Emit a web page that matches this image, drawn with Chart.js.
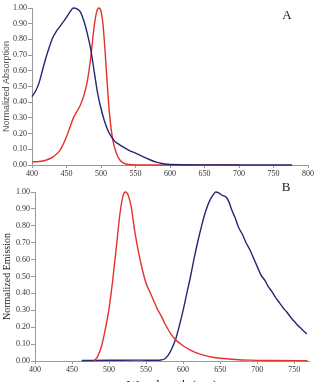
<!DOCTYPE html>
<html>
<head>
<meta charset="utf-8">
<script src="https://cdn.jsdelivr.net/npm/chart.js@4.4.0/dist/chart.umd.min.js"></script>
<style>
  body { margin: 0; background: #fff; width: 319px; height: 382px; overflow: hidden; position: relative; }
  canvas { position: absolute; left: 0; }
</style>
</head>
<body>
<canvas id="absChart" width="319" height="180" style="top:0"></canvas>
<canvas id="emiChart" width="319" height="213" style="top:180px"></canvas>
<script>
// panel A - absorption
const absBlueX = [400,405,410,415,420,425,430,435,440,445,450,455,460,465,470,475,480,485,490,495,500,505,510,515,520,525,530,540,550,560,570,580,590,600,650,700,777];
const absBlueY = [0.435,0.47,0.52,0.6,0.68,0.75,0.81,0.85,0.88,0.91,0.94,0.975,1.0,0.995,0.975,0.92,0.84,0.74,0.6,0.46,0.36,0.28,0.22,0.18,0.15,0.135,0.12,0.095,0.075,0.055,0.035,0.018,0.008,0.003,0.001,0,0];
const absRedX = [400,410,420,430,440,445,450,455,460,465,470,475,480,485,490,494,497,500,503,506,509,512,515,518,522,526,530,535,540,550,600,700];
const absRedY = [0.02,0.022,0.03,0.05,0.09,0.13,0.18,0.24,0.3,0.34,0.38,0.44,0.53,0.68,0.88,0.98,1.0,0.98,0.89,0.72,0.52,0.34,0.22,0.14,0.08,0.04,0.02,0.008,0.003,0,0,0];

// panel B - emission
const emiRedX = [480,485,490,495,500,505,510,515,519,522,526,530,535,540,545,550,555,560,565,570,575,580,585,590,600,610,620,630,640,650,670,690,720,768];
const emiRedY = [0,0.03,0.09,0.19,0.31,0.48,0.68,0.88,0.98,1.0,0.98,0.91,0.76,0.64,0.54,0.46,0.41,0.36,0.31,0.27,0.225,0.185,0.15,0.125,0.09,0.065,0.045,0.032,0.022,0.016,0.009,0.005,0.003,0.002];
const emiBlueX = [463,500,540,565,570,575,580,585,590,595,600,605,610,615,620,625,630,635,640,644,648,653,658,662,666,670,675,680,685,690,695,700,705,710,715,720,725,730,735,740,745,750,755,760,767];
const emiBlueY = [0.003,0.004,0.005,0.004,0.006,0.012,0.035,0.075,0.13,0.21,0.30,0.40,0.50,0.61,0.71,0.80,0.88,0.94,0.98,1.0,0.995,0.98,0.97,0.94,0.89,0.85,0.79,0.75,0.70,0.66,0.61,0.56,0.51,0.48,0.44,0.41,0.375,0.345,0.315,0.29,0.26,0.235,0.21,0.19,0.16];

const BLUE = '#262672';
const RED = '#e3322c';

function pts(xs, ys) {
  return xs.map((x, i) => ({ x: x, y: ys[i] }));
}

function line(xs, ys, color) {
  return {
    data: pts(xs, ys),
    borderColor: color,
    borderWidth: 1.4,
    pointRadius: 0,
    cubicInterpolationMode: 'monotone',
    fill: false,
    clip: false
  };
}

// draws the panel letter (A / B)
const panelLabel = {
  id: 'panelLabel',
  afterDraw(chart, args, opts) {
    const ctx = chart.ctx;
    ctx.save();
    ctx.font = '13px "Liberation Serif"';
    ctx.fillStyle = '#222';
    ctx.textAlign = 'center';
    ctx.textBaseline = 'middle';
    ctx.fillText(opts.text, opts.x, opts.y);
    ctx.restore();
  }
};

const tickFont = { family: 'Liberation Serif', size: 8 };

function makeChart(id, datasets, o) {
  return new Chart(document.getElementById(id), {
    type: 'line',
    data: { datasets: datasets },
    plugins: [panelLabel],
    options: {
      responsive: false,
      animation: false,
      devicePixelRatio: 1,
      layout: { padding: { top: o.top, right: o.right, left: 0, bottom: 0 } },
      plugins: {
        legend: { display: false },
        tooltip: { enabled: false },
        panelLabel: { text: o.label, x: o.lx, y: o.ly }
      },
      scales: {
        x: {
          type: 'linear',
          min: 400,
          max: o.xmax,
          afterFit: s => { s.height = o.xh; },
          grid: { drawOnChartArea: false, tickLength: 3, color: '#999' },
          border: { color: '#999' },
          ticks: { stepSize: 50, includeBounds: false, padding: 1, color: '#333', font: tickFont, maxRotation: 0 },
          title: o.xtitle ? { display: true, text: o.xtitle, color: '#222', padding: 0,
            font: { family: 'Liberation Serif', size: 13 } } : { display: false }
        },
        y: {
          min: 0,
          max: 1,
          afterFit: s => { s.width = o.yw; },
          grid: { drawOnChartArea: false, tickLength: 4, color: '#999' },
          border: { color: '#999' },
          ticks: { stepSize: 0.1, padding: 1, color: '#333', font: tickFont,
            callback: v => v.toFixed(2) },
          title: { display: true, text: o.ytitle, color: o.ycolor, padding: 1, font: o.yfont }
        }
      }
    }
  });
}

makeChart('absChart', [line(absBlueX, absBlueY, BLUE), line(absRedX, absRedY, RED)], {
  top: 8, right: 11, xmax: 800, xh: 15, yw: 32,
  ytitle: 'Normalized Absorption', ycolor: '#555',
  yfont: { family: 'Liberation Sans', size: 9 },
  label: 'A', lx: 287, ly: 16
});

makeChart('emiChart', [line(emiRedX, emiRedY, RED), line(emiBlueX, emiBlueY, BLUE)], {
  top: 12, right: 10, xmax: 770, xh: 32, yw: 35,
  ytitle: 'Normalized Emission', ycolor: '#222',
  yfont: { family: 'Liberation Serif', size: 10 },
  xtitle: 'Wavelength (nm)',
  label: 'B', lx: 286, ly: 8
});
</script>
</body>
</html>
